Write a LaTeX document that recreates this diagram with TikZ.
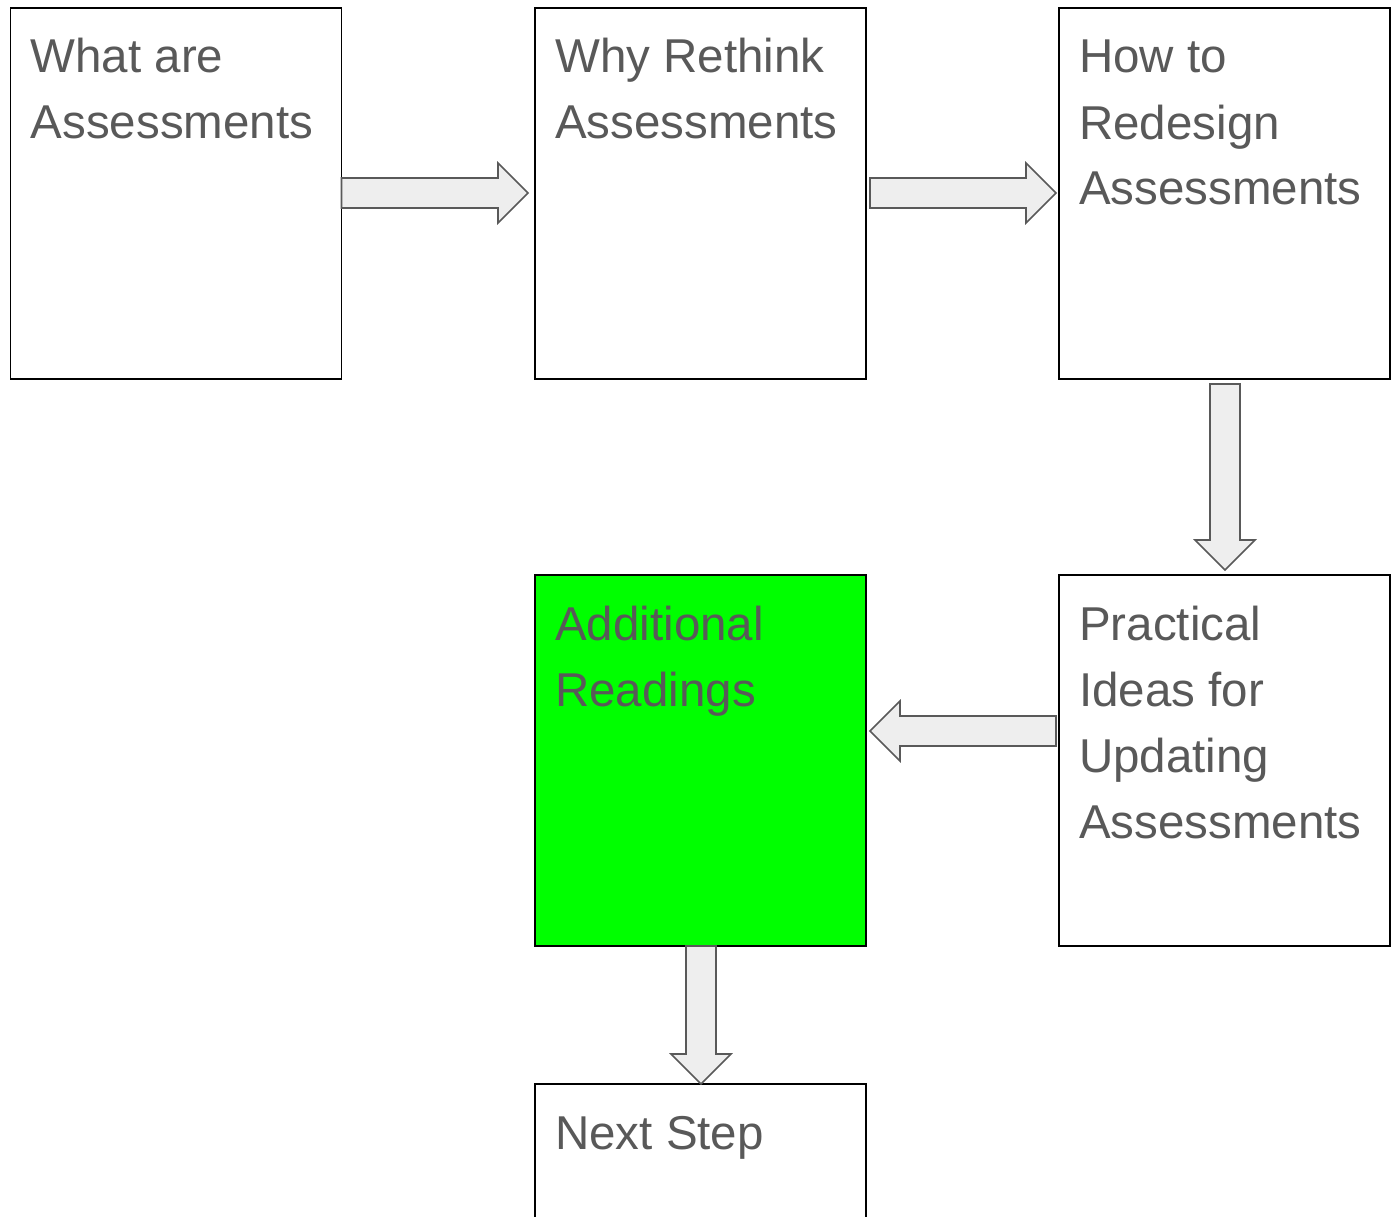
\documentclass[tikz,border=0pt]{standalone}
\usepackage{fontspec}
\setmainfont{Liberation Sans}
\usetikzlibrary{calc}
\definecolor{txtgray}{HTML}{595959}
\definecolor{arrfill}{HTML}{EEEEEE}
\definecolor{arrline}{HTML}{595959}
\definecolor{boxgreen}{HTML}{00FF00}
\tikzset{
  stepbox/.style={draw=black, line width=1.8pt, fill=white, inner sep=0pt, outer sep=0pt,
    minimum width=331pt, minimum height=371pt},
  txt/.style={text=txtgray, font=\fontsize{47.5}{66}\selectfont, align=left, inner sep=0pt, anchor=base west},
  blockarrow/.style={draw=arrline, fill=arrfill, line width=1.6pt, line join=miter},
}
\begin{document}
\begin{tikzpicture}[x=1pt,y=-1pt]
\useasboundingbox (0,0) rectangle (1392,1217);
\clip (0,0) rectangle (1392,1217);
% boxes
\node[stepbox] (b1) at (176,193.5) {};
\node[stepbox] (b2) at (700.5,193.5) {};
\node[stepbox] (b3) at (1224.5,193.5) {};
\node[stepbox] (b4) at (1224.5,760.5) {};
\node[stepbox, fill=boxgreen] (b5) at (700.5,760.5) {};
\node[stepbox] (b6) at (700.5,1269.5) {};
% texts (anchored at the baseline of the last line; lines are 66 apart)
\node[txt] (t1) at ($(b1.north west)+(20,131)$) {What are\\Assessments};
\node[txt] (t2) at ($(b2.north west)+(20,131)$) {Why Rethink\\Assessments};
\node[txt] (t3) at ($(b3.north west)+(20,197)$) {How to\\Redesign\\Assessments};
\node[txt] (t4) at ($(b4.north west)+(20,263)$) {Practical\\Ideas for\\Updating\\Assessments};
\node[txt] (t5) at ($(b5.north west)+(20,131)$) {Additional\\Readings};
\node[txt] (t6) at ($(b6.north west)+(20,65)$) {Next Step};
% arrow anchors
\coordinate (a1s) at ($(b1.east)+(0,-0.5)$);
\coordinate (a1e) at ($(b2.west)+(-7,-0.5)$);
\coordinate (a2s) at ($(b2.east)+(4,-0.5)$);
\coordinate (a2e) at ($(b3.west)+(-3,-0.5)$);
\coordinate (a3s) at ($(b3.south)+(0.5,5)$);
\coordinate (a3e) at ($(b4.north)+(0.5,-5)$);
\coordinate (a4s) at ($(b4.west)+(-3,-29.5)$);
\coordinate (a4e) at ($(b5.east)+(4,-29.5)$);
\coordinate (a5s) at ($(b5.south)+(0.5,0)$);
\coordinate (a5e) at ($(b6.north)+(0.5,0)$);
% right arrows
\draw[blockarrow] ($(a1s)+(0,-15)$) -- ($(a1e)+(-30,-15)$) -- ($(a1e)+(-30,-30)$) -- (a1e)
  -- ($(a1e)+(-30,30)$) -- ($(a1e)+(-30,15)$) -- ($(a1s)+(0,15)$) -- cycle;
\draw[blockarrow] ($(a2s)+(0,-15)$) -- ($(a2e)+(-30,-15)$) -- ($(a2e)+(-30,-30)$) -- (a2e)
  -- ($(a2e)+(-30,30)$) -- ($(a2e)+(-30,15)$) -- ($(a2s)+(0,15)$) -- cycle;
% left arrow
\draw[blockarrow] ($(a4s)+(0,-15)$) -- ($(a4e)+(30,-15)$) -- ($(a4e)+(30,-30)$) -- (a4e)
  -- ($(a4e)+(30,30)$) -- ($(a4e)+(30,15)$) -- ($(a4s)+(0,15)$) -- cycle;
% down arrows
\draw[blockarrow] ($(a3s)+(-15,0)$) -- ($(a3e)+(-15,-30)$) -- ($(a3e)+(-30,-30)$) -- (a3e)
  -- ($(a3e)+(30,-30)$) -- ($(a3e)+(15,-30)$) -- ($(a3s)+(15,0)$) -- cycle;
\draw[blockarrow] ($(a5s)+(-15,0)$) -- ($(a5e)+(-15,-30)$) -- ($(a5e)+(-30,-30)$) -- (a5e)
  -- ($(a5e)+(30,-30)$) -- ($(a5e)+(15,-30)$) -- ($(a5s)+(15,0)$) -- cycle;
\end{tikzpicture}
\end{document}
